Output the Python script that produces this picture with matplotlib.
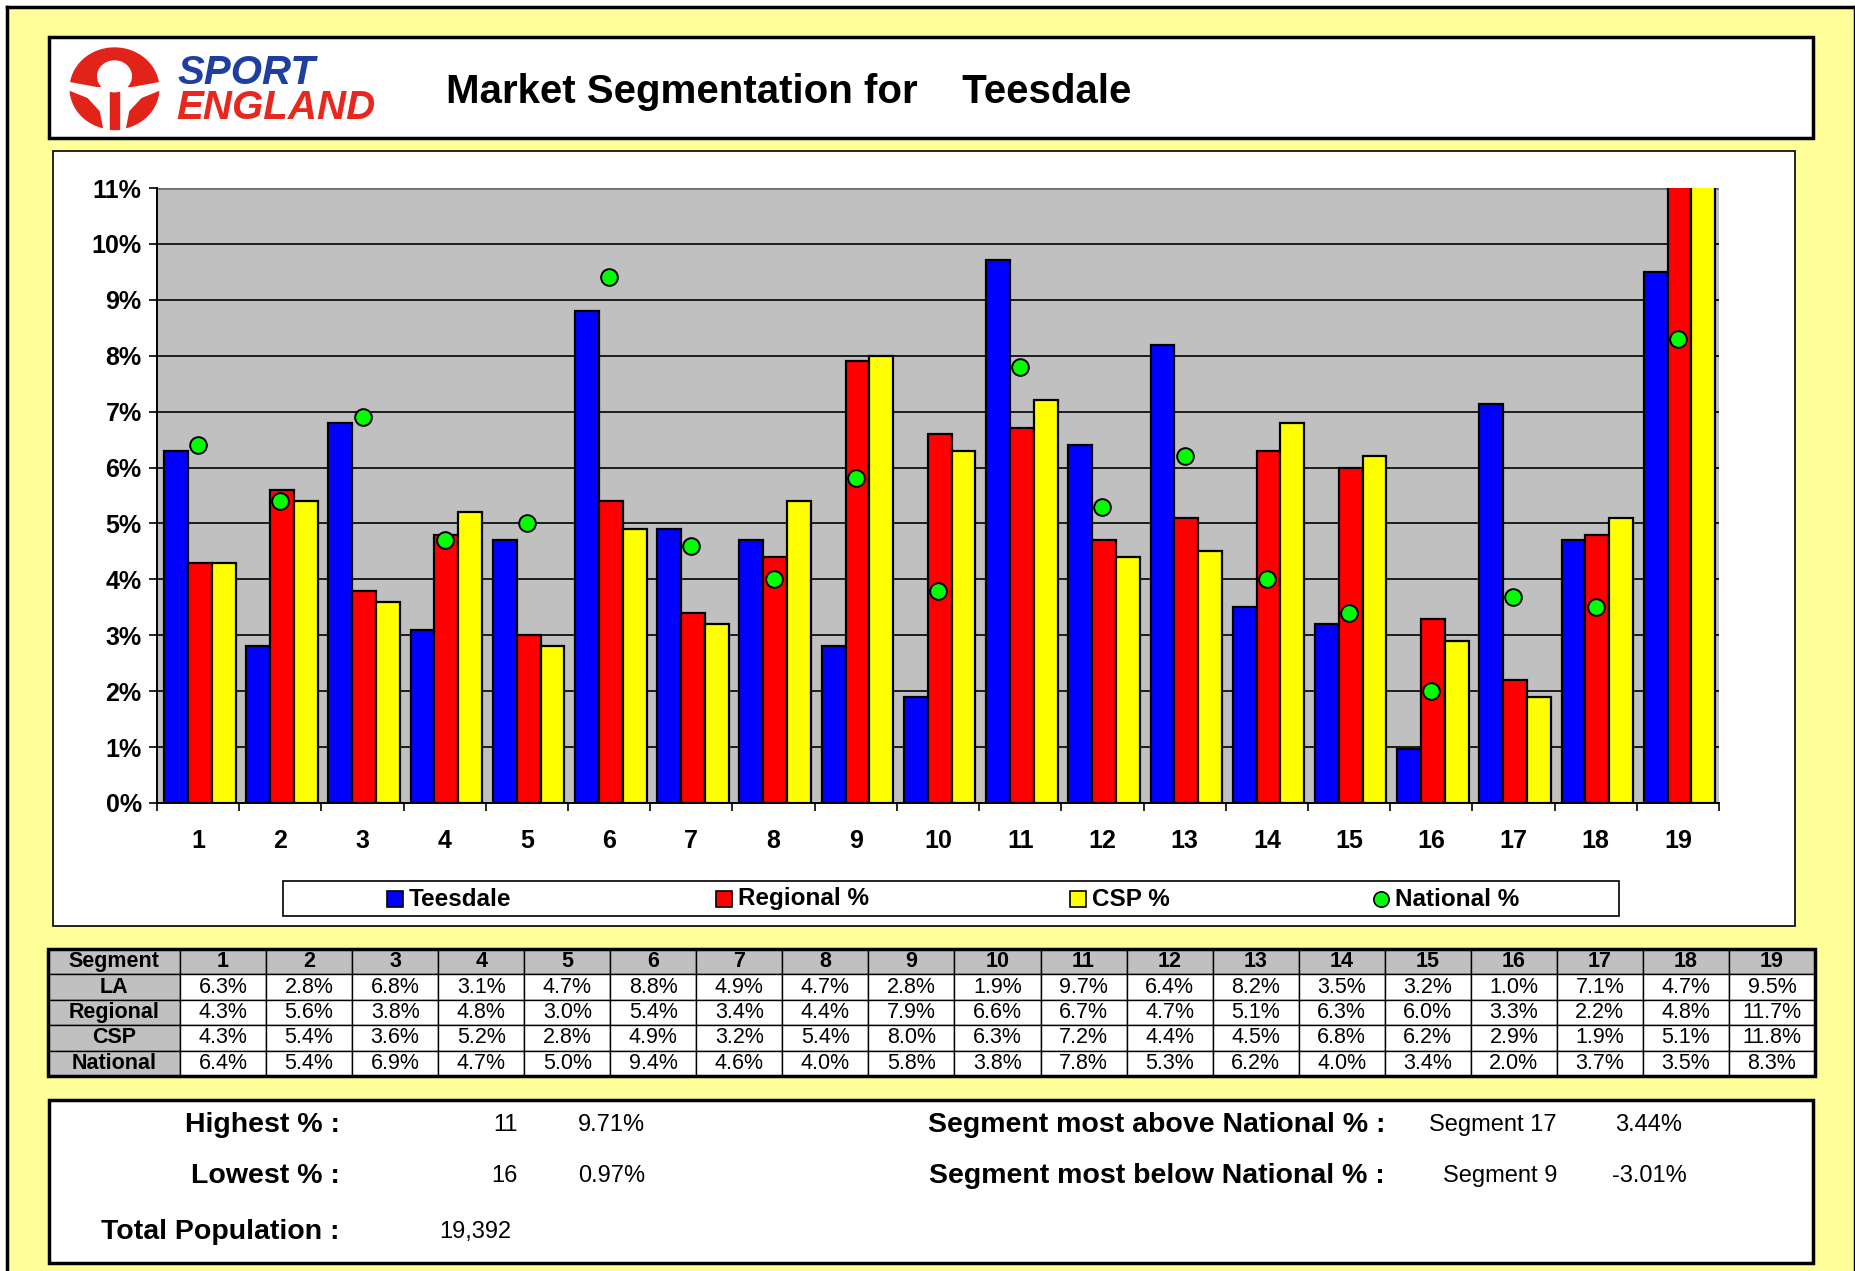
import matplotlib
matplotlib.use("Agg")
import matplotlib.pyplot as plt
import numpy as np
from matplotlib.patches import Rectangle, Circle, Polygon
from matplotlib.lines import Line2D

plt.rcParams.update({
    "font.family": ["Liberation Sans", "DejaVu Sans"],
    "font.weight": "bold",
})

W, H = 1856, 1271

SEGMENTS = [str(i) for i in range(1, 20)]
LA = [6.3, 2.8, 6.8, 3.1, 4.7, 8.8, 4.9, 4.7, 2.81, 1.9, 9.71, 6.4, 8.2, 3.5, 3.2, 0.97, 7.13, 4.7, 9.5]
REGIONAL = [4.3, 5.6, 3.8, 4.8, 3.0, 5.4, 3.4, 4.4, 7.9, 6.6, 6.7, 4.7, 5.1, 6.3, 6.0, 3.3, 2.2, 4.8, 11.7]
CSP = [4.3, 5.4, 3.6, 5.2, 2.8, 4.9, 3.2, 5.4, 8.0, 6.3, 7.2, 4.4, 4.5, 6.8, 6.2, 2.9, 1.9, 5.1, 11.8]
NATIONAL = [6.4, 5.4, 6.9, 4.7, 5.0, 9.4, 4.6, 4.0, 5.82, 3.8, 7.8, 5.3, 6.2, 4.0, 3.4, 2.0, 3.69, 3.5, 8.3]
ROW_NAMES = ["LA", "Regional", "CSP", "National"]
AREA = "Teesdale"
TOTAL_POP = "19,392"

BLUE = "#0000FF"
RED = "#FF0000"
YELLOW = "#FFFF00"
GREEN = "#00FF00"
GREY_BG = "#C0C0C0"
PALE = "#FFFF99"
NARROW = ["Liberation Sans Narrow", "Liberation Sans", "DejaVu Sans"]


def rect_px(x0, y0, x1, y1):
    """figure-fraction [l, b, w, h] from pixel box (top-left origin)."""
    return [x0 / W, 1 - y1 / H, (x1 - x0) / W, (y1 - y0) / H]


def fx(px):
    return px / W


def fy(py):
    return 1 - py / H


fig = plt.figure(figsize=(W / 100, H / 100), dpi=100, facecolor="white")

# page background + frame
fig.patches.append(Rectangle((fx(7), 0), fx(1855) - fx(7), fy(7), transform=fig.transFigure,
                             facecolor=PALE, edgecolor="none", zorder=-5))
for xs, ys in [([7, 7], [7, H]), ([7, 1855], [7, 7]), ([1855, 1855], [7, H])]:
    fig.lines.append(Line2D([fx(v) for v in xs], [fy(v) for v in ys], transform=fig.transFigure,
                            color="black", lw=2.5, zorder=-4))


def box(x0, y0, x1, y1, lw=2.5, ec="black"):
    fig.patches.append(Rectangle((fx(x0), fy(y1)), fx(x1) - fx(x0), fy(y0) - fy(y1),
                                 transform=fig.transFigure, facecolor="white",
                                 edgecolor=ec, lw=lw, zorder=-3))


# header
box(49, 37, 1813, 138)
fig.text(fx(446), fy(92), f"Market Segmentation for    {AREA}", fontsize=29, fontweight="bold",
         va="center", ha="left")
fig.text(fx(178), fy(73), "SPORT", fontsize=29, fontweight="bold", style="italic",
         color="#1E3FA0", va="center", ha="left")
fig.text(fx(176), fy(108), "ENGLAND", fontsize=29, fontweight="bold", style="italic",
         color="#E8281E", va="center", ha="left")

# logo (rough sketch of the Sport England mark)
lg = fig.add_axes(rect_px(68, 46, 161, 131))
lg.set_xlim(-1.05, 1.05)
lg.set_ylim(-1.05, 1.05)
lg.axis("off")
LOGO_RED = "#E2231A"
lg.add_patch(Circle((0, 0), 1.0, color=LOGO_RED))
lg.add_patch(Polygon([(-1.1, 0.16), (-0.4, 0.02), (0.4, 0.02), (1.1, 0.16), (1.1, 0.0),
                      (0.6, -0.22), (0.32, -0.55), (0.22, -1.1), (-0.22, -1.1), (-0.32, -0.55),
                      (-0.6, -0.22), (-1.1, 0.0)], closed=True, color="white"))
lg.add_patch(Rectangle((-0.1, -1.0), 0.2, 1.1, color=LOGO_RED))
lg.add_patch(Circle((0, 0.3), 0.38, color="white"))

# chart panel
box(53, 151, 1795, 926, lw=1.2)
ax = fig.add_axes(rect_px(157, 188, 1719, 803))
ax.set_facecolor(GREY_BG)
x = np.arange(len(SEGMENTS))
w = 0.29
for vals, off, col in [(LA, -w, BLUE), (REGIONAL, 0, RED), (CSP, w, YELLOW)]:
    ax.bar(x + off + 0.02, vals, w, color=col, edgecolor="black", linewidth=1.6, zorder=3)
ax.plot(x, NATIONAL, "o", color=GREEN, markeredgecolor="black", markeredgewidth=1.4,
        markersize=12, zorder=4, linestyle="none")
ax.set_xlim(-0.5, len(SEGMENTS) - 0.5)
ax.set_ylim(0, 11)
ax.set_yticks(range(0, 12))
ax.set_yticklabels([f"{v}%" for v in range(0, 12)], fontsize=18, fontweight="bold")
ax.set_xticks(np.arange(-0.5, len(SEGMENTS), 1.0))
ax.set_xticklabels([])
ax.set_xticks(x, minor=True)
ax.set_xticklabels(SEGMENTS, minor=True, fontsize=18, fontweight="bold")
ax.tick_params(axis="x", which="minor", length=0, pad=19)
ax.tick_params(axis="x", which="major", length=6, width=1.2, direction="out")
ax.tick_params(axis="y", length=6, width=1.2, direction="out", pad=5)
ax.grid(axis="y", color="black", lw=1.2, zorder=1)
for s in ["top", "right"]:
    ax.spines[s].set_visible(False)
for s in ["left", "bottom"]:
    ax.spines[s].set_linewidth(1.4)
ax.axhline(11, color="#707070", lw=2, zorder=2)

# legend
box(283, 881, 1619, 916, lw=1.2)
leg_items = [(AREA, BLUE, "s"), ("Regional %", RED, "s"), ("CSP %", YELLOW, "s"), ("National %", GREEN, "o")]
leg_x = [387, 716, 1070, 1373]
for (lab, col, mk), lx in zip(leg_items, leg_x):
    ly = 899
    if mk == "s":
        fig.patches.append(Rectangle((fx(lx), fy(ly + 8)), 16 / W, 16 / H, transform=fig.transFigure,
                                     facecolor=col, edgecolor="black", lw=1.2, zorder=3))
    else:
        fig.lines.append(Line2D([fx(lx + 8)], [fy(ly)], transform=fig.transFigure, marker="o",
                                markersize=11, color=col, markeredgecolor="black",
                                markeredgewidth=1.2, zorder=3))
    fig.text(fx(lx + 22), fy(ly), lab, fontsize=17.5, fontweight="bold", va="center", ha="left")

# data table
tab_ax = fig.add_axes(rect_px(48, 949, 1815, 1076))
tab_ax.axis("off")
cells = [["Segment"] + SEGMENTS]
for name, vals in zip(ROW_NAMES, [LA, REGIONAL, CSP, NATIONAL]):
    cells.append([name] + [f"{v:.1f}%" for v in vals])
first_w = 132 / 1767
col_w = [first_w] + [(1 - first_w) / len(SEGMENTS)] * len(SEGMENTS)
tbl = tab_ax.table(cellText=cells, colWidths=col_w, bbox=[0, 0, 1, 1], cellLoc="center")
tbl.auto_set_font_size(False)
for (r, c), cell in tbl.get_celld().items():
    cell.set_linewidth(1.0)
    cell.set_edgecolor("black")
    txt = cell.get_text()
    txt.set_fontsize(15.5)
    txt.set_family(NARROW)
    if r == 0 or c == 0:
        cell.set_facecolor(GREY_BG)
        txt.set_fontweight("bold")
    else:
        cell.set_facecolor("white")
        txt.set_fontweight("normal")
        cell._loc = "right"
        cell.PAD = 0.03
tab_ax.add_patch(Rectangle((0, 0), 1, 1, transform=tab_ax.transAxes, fill=False,
                           edgecolor="black", lw=2.5, zorder=5, clip_on=False))

# summary box
box(49, 1100, 1813, 1263)
hi = int(np.argmax(LA))
lo = int(np.argmin(LA))
diff = [a - b for a, b in zip(LA, NATIONAL)]
above = int(np.argmax(diff))
below = int(np.argmin(diff))
lab_kw = dict(fontsize=20.5, fontweight="bold", va="center")
val_kw = dict(fontsize=17, fontweight="normal", va="center")
fig.text(fx(340), fy(1125), "Highest % :", ha="right", **lab_kw)
fig.text(fx(518), fy(1125), SEGMENTS[hi], ha="right", **val_kw)
fig.text(fx(578), fy(1125), f"{LA[hi]:.2f}%", ha="left", **val_kw)
fig.text(fx(340), fy(1176), "Lowest % :", ha="right", **lab_kw)
fig.text(fx(518), fy(1176), SEGMENTS[lo], ha="right", **val_kw)
fig.text(fx(578), fy(1176), f"{LA[lo]:.2f}%", ha="left", **val_kw)
fig.text(fx(340), fy(1232), "Total Population :", ha="right", **lab_kw)
fig.text(fx(439), fy(1232), TOTAL_POP, ha="left", **val_kw)
fig.text(fx(1385), fy(1125), "Segment most above National % :", ha="right", **lab_kw)
fig.text(fx(1493), fy(1125), f"Segment {SEGMENTS[above]}", ha="center", **val_kw)
fig.text(fx(1649), fy(1125), f"{diff[above]:.2f}%", ha="center", **val_kw)
fig.text(fx(1385), fy(1176), "Segment most below National % :", ha="right", **lab_kw)
fig.text(fx(1500), fy(1176), f"Segment {SEGMENTS[below]}", ha="center", **val_kw)
fig.text(fx(1649), fy(1176), f"{diff[below]:.2f}%", ha="center", **val_kw)

fig.savefig("out.png", dpi=100, facecolor="white")
